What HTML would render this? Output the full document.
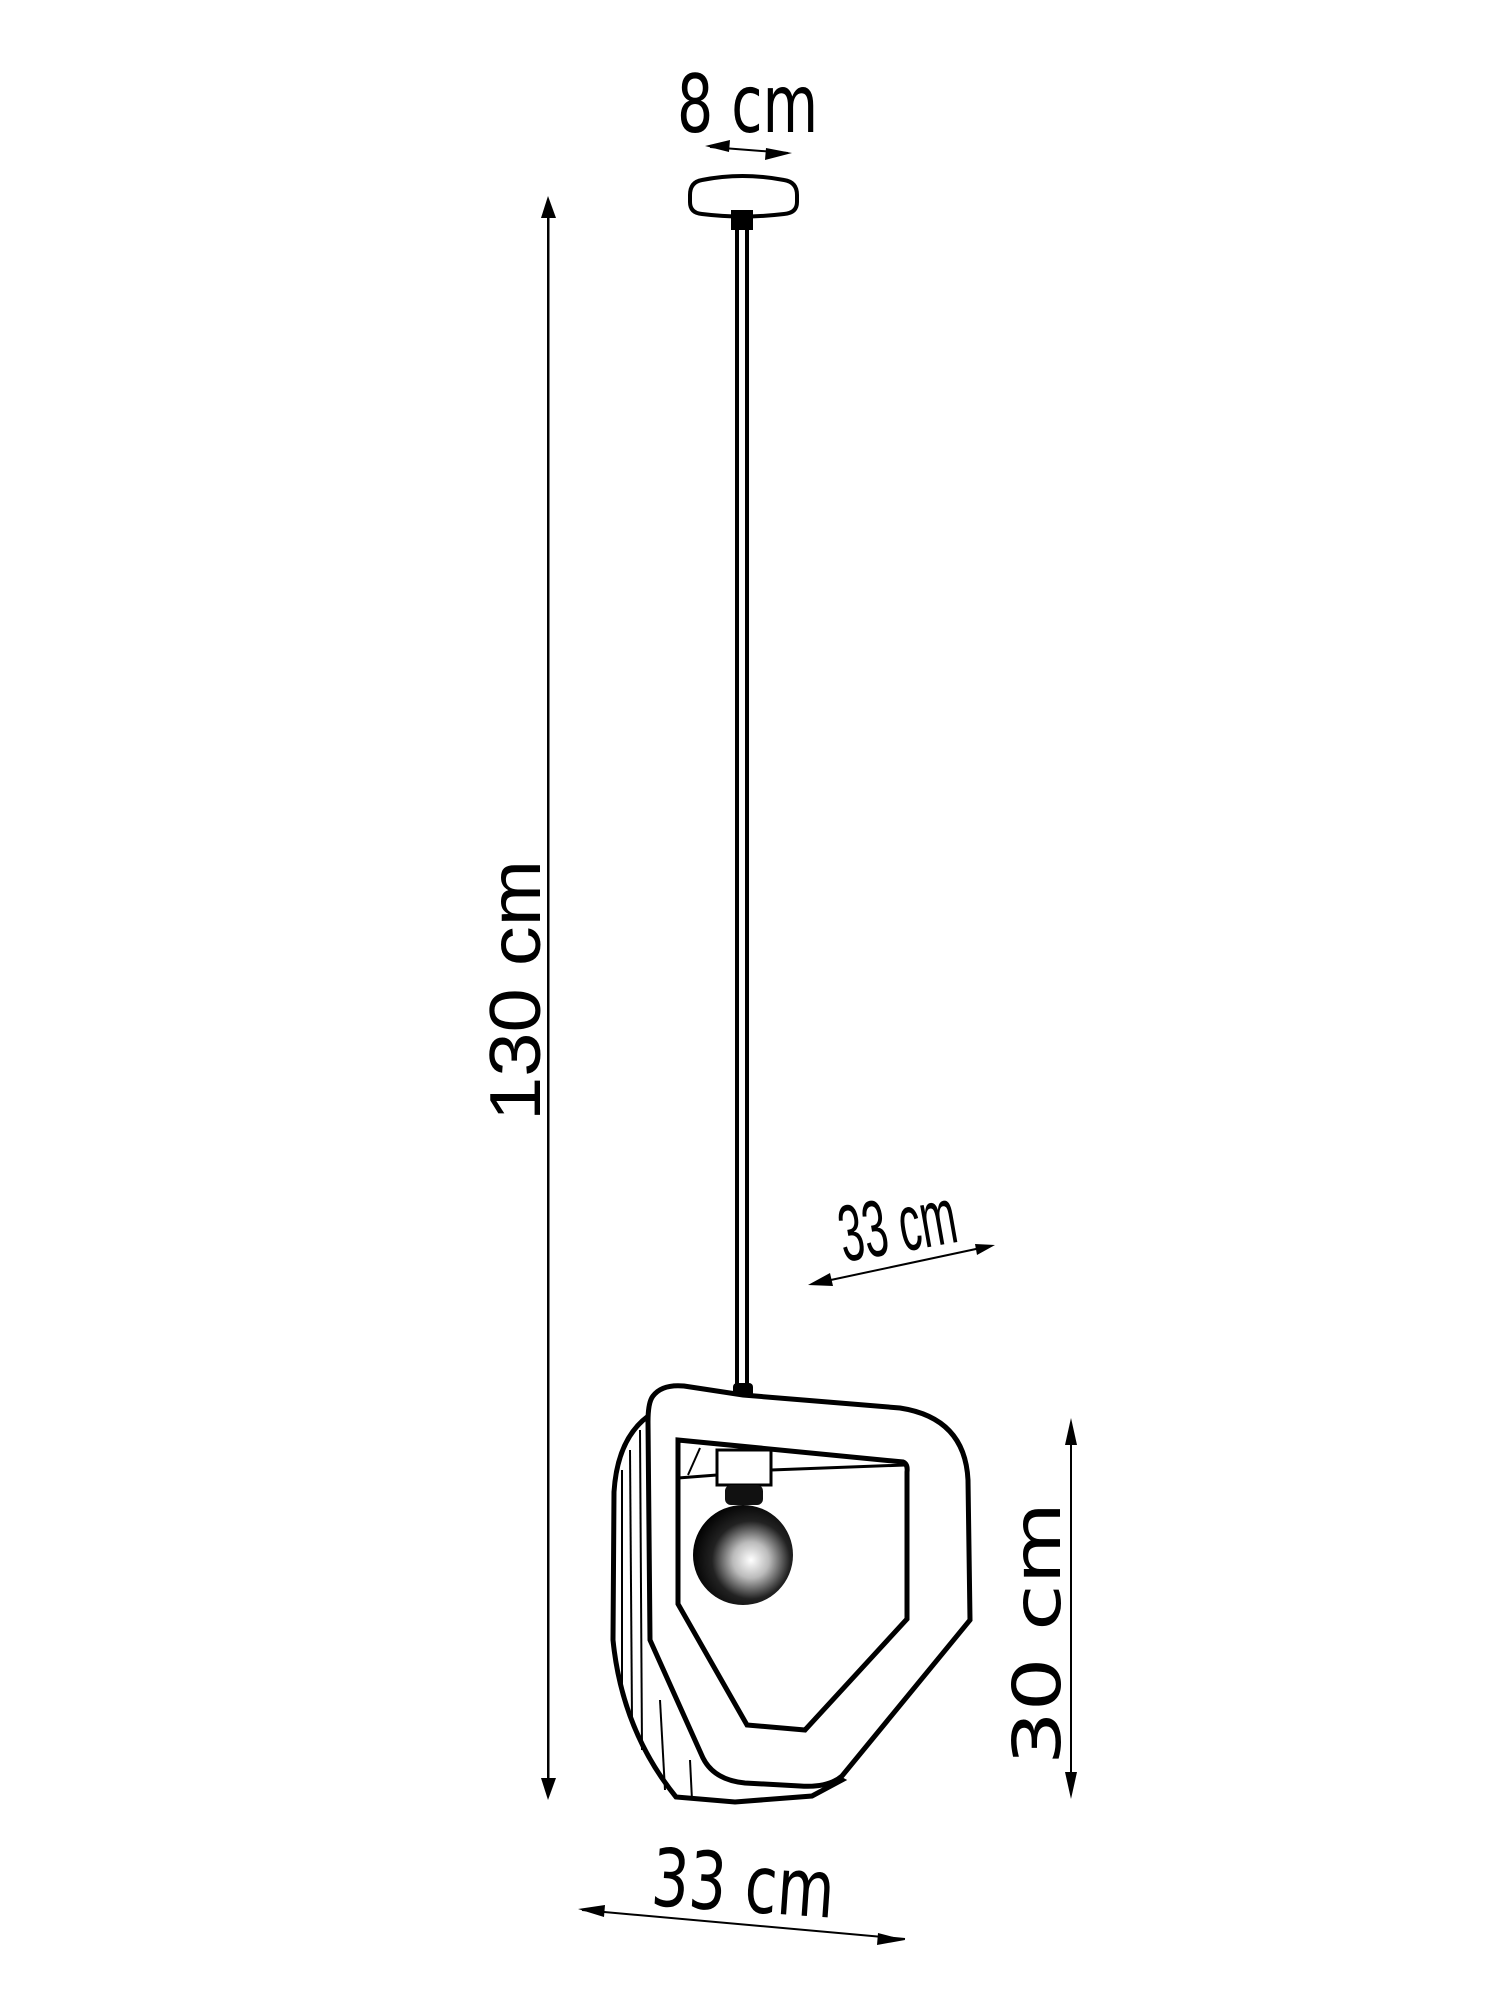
<!DOCTYPE html>
<html><head><meta charset="utf-8"><style>html,body{margin:0;padding:0;background:#fff}svg{display:block}</style></head>
<body>
<svg width="1500" height="2000" viewBox="0 0 1500 2000" xmlns="http://www.w3.org/2000/svg">
<defs>
<radialGradient id="bulb" cx="0.58" cy="0.55" r="0.6">
<stop offset="0" stop-color="#fff"/><stop offset="0.3" stop-color="#bbb"/><stop offset="0.65" stop-color="#222"/><stop offset="1" stop-color="#000"/>
</radialGradient>
</defs>
<g fill="#000" stroke="none">
<rect x="547" y="205" width="2.5" height="1585"/>
<polygon points="548,196 541,218 556,218"/>
<polygon points="548,1800 541,1778 556,1778"/>
<rect x="1070" y="1428" width="2" height="362"/>
<polygon points="1071,1418 1065,1445 1077,1445"/>
<polygon points="1071,1799 1065,1772 1077,1772"/>
</g>
<line x1="710" y1="147" x2="788" y2="153" stroke="#000" stroke-width="2"/>
<polygon points="705,146 730,140 729,152" fill="#000"/>
<polygon points="792,153 766,148 765,160" fill="#000"/>
<line x1="812" y1="1284" x2="990" y2="1246" stroke="#000" stroke-width="2"/>
<polygon points="808,1285 830,1273 833,1286" fill="#000"/>
<polygon points="995,1245 975,1244 977,1255" fill="#000"/>
<line x1="582" y1="1910" x2="905" y2="1939" stroke="#000" stroke-width="2"/>
<polygon points="578,1909 605,1905 604,1917" fill="#000"/>
<polygon points="905,1940 878,1933 877,1945" fill="#000"/>

<!-- canopy -->
<path d="M702,180 Q742,172 784,180 Q797,182 797,195 L797,202 Q797,213 784,214 Q742,219 702,214 Q690,213 690,202 L690,195 Q690,182 702,180 Z" fill="#fff" stroke="#000" stroke-width="4"/>
<rect x="731" y="210" width="22" height="20" fill="#000"/>
<rect x="735" y="228" width="4" height="1160" fill="#000"/>
<rect x="745" y="228" width="4" height="1160" fill="#000"/>
<rect x="733" y="1383" width="20" height="14" rx="4" fill="#000"/>

<!-- back ring -->
<path d="M662,1408 Q618,1428 614,1492 L613,1640 Q622,1730 676,1797 L735,1802 L812,1796 L842,1780 L700,1700 Z" fill="#fff" stroke="#000" stroke-width="5"/>
<g stroke="#000" stroke-width="2">
<line x1="622" y1="1470" x2="622" y2="1690"/>
<line x1="630" y1="1450" x2="632" y2="1720"/>
<line x1="640" y1="1430" x2="642" y2="1750"/>
<line x1="660" y1="1700" x2="665" y2="1790"/>
<line x1="690" y1="1760" x2="692" y2="1800"/>
</g>
<!-- front ring -->
<path d="M653,1396 Q662,1384 684,1386 L743,1395 L900,1408 Q965,1418 968,1480 L970,1620 L842,1776 Q828,1788 800,1786 L745,1783 Q714,1780 703,1758 L650,1640 L648,1422 Q648,1402 653,1396 Z" fill="#fff" stroke="#000" stroke-width="5"/>
<path d="M678,1440 L903,1462 Q908,1464 907,1472 L907,1619 L805,1730 L747,1725 L678,1604 Z" fill="#fff" stroke="#000" stroke-width="5"/>
<line x1="678" y1="1478" x2="717" y2="1475" stroke="#000" stroke-width="3"/>
<line x1="771" y1="1470" x2="905" y2="1465" stroke="#000" stroke-width="3"/>
<line x1="688" y1="1475" x2="700" y2="1448" stroke="#000" stroke-width="2"/>
<rect x="717" y="1450" width="54" height="35" fill="#fff" stroke="#000" stroke-width="3"/>
<rect x="725" y="1485" width="38" height="20" rx="6" fill="#111"/>
<circle cx="743" cy="1555" r="50" fill="url(#bulb)"/>

<g font-family="'DejaVu Sans', 'Liberation Sans', sans-serif" fill="#000">
<text x="677" y="132" font-size="80" textLength="141" lengthAdjust="spacingAndGlyphs">8 cm</text>
<text transform="translate(650,1905) rotate(4)" font-size="80" textLength="183" lengthAdjust="spacingAndGlyphs">33 cm</text>
<text transform="translate(1060,1765) rotate(-90)" font-size="66" textLength="263" lengthAdjust="spacingAndGlyphs">30 cm</text>
</g>
<g font-family="'Liberation Sans', sans-serif" fill="#000">
<text transform="translate(540,1121) rotate(-90)" font-size="72" textLength="261" lengthAdjust="spacingAndGlyphs">130 cm</text>
<text transform="translate(844,1262) rotate(-10)" font-size="80" textLength="118" lengthAdjust="spacingAndGlyphs">33 cm</text>
</g>
</svg>
</body></html>
